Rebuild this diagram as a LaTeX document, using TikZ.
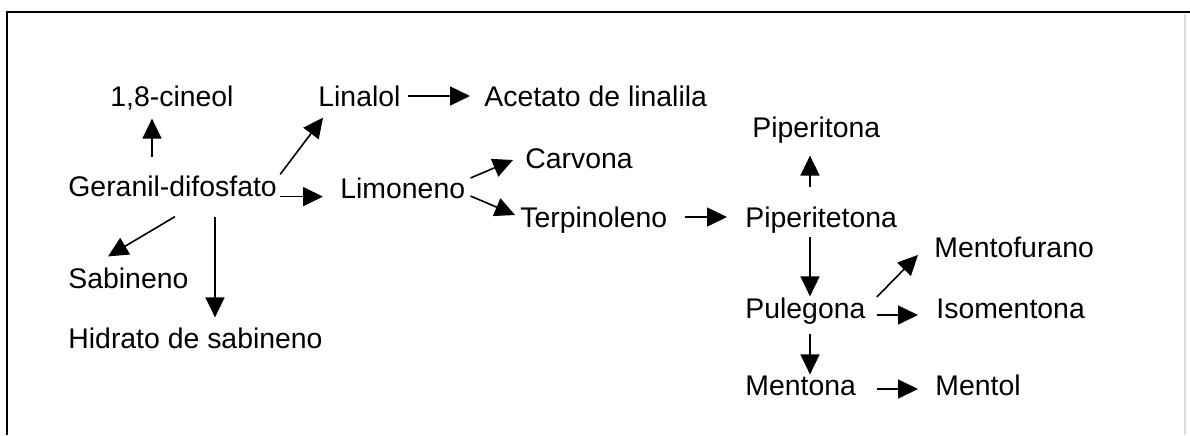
\documentclass[tikz,border=0pt]{standalone}
\usepackage{fontspec}
\setmainfont{Liberation Sans}
\usetikzlibrary{arrows.meta,calc}
\begin{document}
\begin{tikzpicture}[x=0.5pt, y=-0.5pt,
	every node/.style={font=\fontsize{14.2}{17}\selectfont, inner sep=0pt, anchor=west, text height=10.2pt, text depth=0pt},
	arr/.style={line width=0.8pt, -{Triangle[length=10pt,width=9.5pt]}}]
\useasboundingbox (0,0) rectangle (1190,435);
% marco
\draw[line width=0.8pt] (7,435) -- (7,12) -- (1190,12);
\draw[gray!25, line width=0.6pt] (1185,14) -- (1185,435);
% nodos
\node (cin) at (110,96) {1,8-cineol};
\node (ger) at (68,186) {Geranil-difosfato};
\node (sab) at (68,278) {Sabineno};
\node (hid) at (68,338) {Hidrato de sabineno};
\node (lin) at (318,96) {Linalol};
\node (ace) at (484,96) {Acetato de linalila};
\node (lim) at (340,188) {Limoneno};
\node (car) at (525,158) {Carvona};
\node (ter) at (520,217) {Terpinoleno};
\node (pito) at (752,127) {Piperitona};
\node (pite) at (745,217) {Piperitetona};
\node (mfu) at (934,247) {Mentofurano};
\node (pul) at (745,308) {Pulegona};
\node (iso) at (936,308) {Isomentona};
\node (mna) at (745,385) {Mentona};
\node (mol) at (935,385) {Mentol};
% flechas
\draw[arr] ($(ger.north west)+(84,-18)$) -- ($(cin.south west)+(42,12)$);
\draw[arr] ($(ger.north east)+(3,-1)$) -- ($(lin.south west)+(5,11)$);
\draw[arr] ($(ger.south east)+(3,0)$) -- ($(lim.south west)+(-17,-2)$);
\draw[arr] ($(ger.south west)+(107,20)$) -- ($(sab.north west)+(40,-11)$);
\draw[arr] ($(ger.south west)+(147,20)$) -- ($(hid.north west)+(147,-10)$);
\draw[arr] ($(lin.east)+(7,0)$) -- ($(ace.west)+(-14,0)$);
\draw[arr] ($(lim.east)+(5,-10)$) -- ($(car.west)+(-12,2)$);
\draw[arr] ($(lim.east)+(5,8)$) -- ($(ter.west)+(-5,-2)$);
\draw[arr] ($(ter.east)+(17,0)$) -- ($(pite.west)+(-18,0)$);
\draw[arr] ($(pite.north west)+(65,-19)$) -- ($(pito.south west)+(58,18)$);
\draw[arr] ($(pite.south west)+(65,9)$) -- ($(pul.north west)+(65,-1)$);
\draw[arr] ($(pul.east)+(11,-11)$) -- ($(mfu.west)+(-16,8)$);
\draw[arr] ($(pul.east)+(11,7)$) -- ($(iso.west)+(-18,7)$);
\draw[arr] ($(pul.south west)+(65,15)$) -- ($(mna.north west)+(65,0)$);
\draw[arr] ($(mna.east)+(21,4)$) -- ($(mol.west)+(-17,4)$);
\end{tikzpicture}
\end{document}
